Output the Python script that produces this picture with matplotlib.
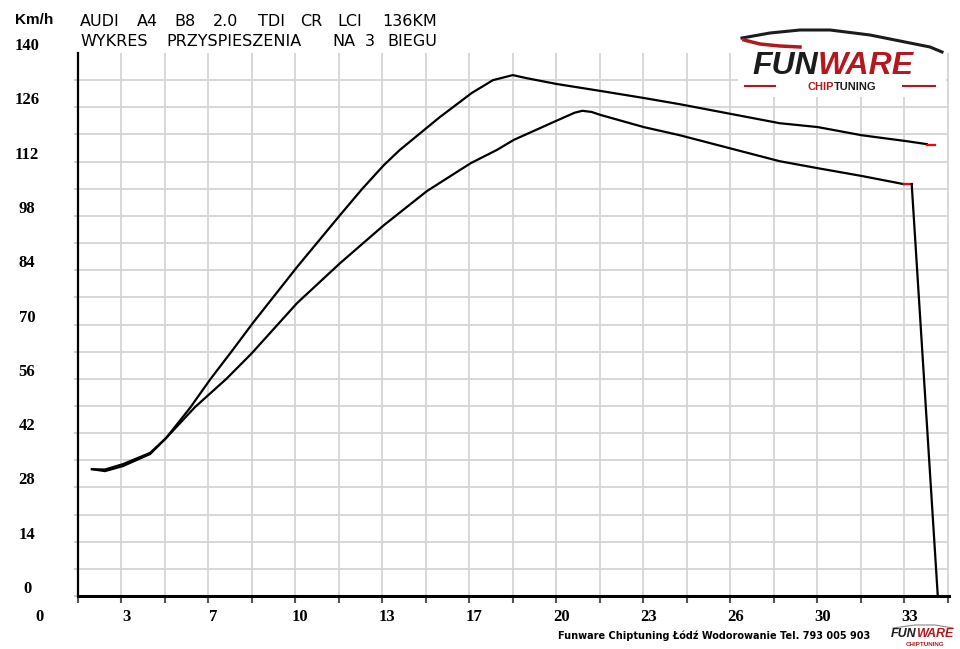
import numpy as np
import matplotlib
matplotlib.use("Agg")
import matplotlib.pyplot as plt
import matplotlib.transforms as mtransforms
from matplotlib.patches import Rectangle

# data (x in the chart's own units, speed in km/h)
upper_x = [2.20, 2.70, 3.39, 4.43, 5.04, 5.96, 6.74, 7.57, 8.37, 10.06, 11.71, 12.55,
           13.39, 14.00, 15.54, 16.76, 17.57, 18.33, 18.87, 20.02, 21.71, 23.35,
           24.73, 28.56, 30.02, 31.70, 33.39, 34.20]
upper_y = [32.7, 32.6, 34.0, 36.9, 40.7, 48.5, 55.9, 63.2, 70.4, 84.8, 98.2, 104.9,
           111.1, 115.0, 123.5, 129.7, 133.0, 134.3, 133.5, 132.0, 130.2, 128.4,
           126.8, 121.9, 120.9, 118.8, 117.3, 116.5]
upper_end_x = [34.20, 34.50]
upper_end_y = [116.4, 116.4]

lower_x = [2.20, 2.70, 3.39, 4.43, 5.04, 6.15, 7.34, 8.33, 10.06, 11.71, 13.39, 15.04,
           16.72, 17.72, 18.37, 20.06, 20.70, 21.00, 21.35, 21.71, 23.35, 24.73,
           28.56, 30.02, 31.70, 33.31]
lower_y = [32.7, 32.2, 33.5, 36.6, 40.7, 48.7, 55.9, 62.6, 75.5, 85.8, 95.6, 104.4,
           111.6, 115.0, 117.6, 122.7, 124.6, 125.1, 124.8, 124.0, 120.9, 118.8,
           112.1, 110.3, 108.3, 106.2]
lower_end_x = [33.31, 33.62]
lower_end_y = [106.2, 106.2]
lower_drop_x = [33.62, 34.62]
lower_drop_y = [106.2, 0.0]

x_label_pos = [0, 10/3, 20/3, 10, 40/3, 50/3, 20, 70/3, 80/3, 30, 100/3]
x_labels = ["0", "3", "7", "10", "13", "17", "20", "23", "26", "30", "33"]
y_label_pos = [0, 14, 28, 42, 56, 70, 84, 98, 112, 126, 140]
y_labels = ["0", "14", "28", "42", "56", "70", "84", "98", "112", "126", "140"]

title1 = ["AUDI", "A4", "B8", "2.0", "TDI", "CR", "LCI", "136KM"]
title1_px = [80, 137, 174, 213, 258, 300, 337, 382]
title2 = ["WYKRES", "PRZYSPIESZENIA", "NA", "3", "BIEGU"]
title2_px = [80, 166, 332, 365, 387]

W, H = 960, 649
fig = plt.figure(figsize=(9.6, 6.49), dpi=100)
ax = fig.add_axes([78 / W, 1 - 596 / H, (949 - 78) / W, (596 - 53) / H])

ax.plot(upper_x, upper_y, color="black", lw=1.6, zorder=3)
ax.plot(upper_end_x, upper_end_y, color="red", lw=1.6, zorder=3)
ax.plot(lower_x, lower_y, color="black", lw=1.6, zorder=3)
ax.plot(lower_end_x, lower_end_y, color="red", lw=1.6, zorder=3)
ax.plot(lower_drop_x, lower_drop_y, color="black", lw=1.6, zorder=3)

ax.set_xlim(5 / 3, 35.05)
ax.set_ylim(0, 140)
ax.set_xticks(np.arange(1, 22) * 5 / 3)
ax.set_yticks(np.arange(0, 140, 7))
ax.set_xticklabels([])
ax.set_yticklabels([])
ax.grid(True, color="#d4d4d4", lw=1.3)
ax.set_axisbelow(True)
ax.tick_params(axis="x", direction="out", length=5, width=1.5, color="#555555")
ax.tick_params(axis="y", direction="out", length=3, width=1.2, color="#c8c8c8")
for s in ["top", "right"]:
    ax.spines[s].set_visible(False)
ax.spines["left"].set_linewidth(1.6)
ax.spines["bottom"].set_linewidth(2.2)

num_font = dict(family="Liberation Serif", weight="bold", size=12)
xt = mtransforms.offset_copy(
    mtransforms.blended_transform_factory(ax.transData, fig.transFigure),
    fig=fig, x=5, y=0, units="dots")
for v, s in zip(x_label_pos, x_labels):
    ax.text(v, 1 - 617 / H, s, transform=xt, ha="center", va="center", **num_font)
yt = mtransforms.offset_copy(
    mtransforms.blended_transform_factory(fig.transFigure, ax.transData),
    fig=fig, x=0, y=7, units="dots")
for v, s in zip(y_label_pos, y_labels):
    ax.text(27 / W, v, s, transform=yt, ha="center", va="center", **num_font)

fig.text(34 / W, 1 - 20 / H, "Km/h", ha="center", va="center",
         family="Liberation Sans", weight="bold", size=11)

for w, px in zip(title1, title1_px):
    fig.text(px / W, 1 - 22 / H, w, ha="left", va="center",
             family="DejaVu Sans", size=11.5)
for w, px in zip(title2, title2_px):
    fig.text(px / W, 1 - 41.5 / H, w, ha="left", va="center",
             family="DejaVu Sans", size=11.5)

# footer
fig.text(558 / W, 1 - 636 / H, "Funware Chiptuning Łódź Wodorowanie Tel. 793 005 903",
         ha="left", va="center", family="DejaVu Sans", weight="bold", size=7)

# big logo, top right
fig.patches.append(Rectangle((738 / W, 1 - 97 / H), 208 / W, 67 / H,
                             transform=fig.transFigure, facecolor="white",
                             edgecolor="none", zorder=2))
logo = dict(family="Liberation Sans", weight="bold", style="italic", size=23, zorder=4)
fig.text(818 / W, 1 - 74 / H, "FUN", ha="right", va="baseline", color="#1c1c1c", **logo)
fig.text(818 / W, 1 - 74 / H, "WARE", ha="left", va="baseline", color="#b3181f", **logo)
sub = dict(family="Liberation Sans", weight="bold", size=8, zorder=4)
fig.text(834 / W, 1 - 90.5 / H, "CHIP", ha="right", va="baseline", color="#b3181f", **sub)
fig.text(834 / W, 1 - 90.5 / H, "TUNING", ha="left", va="baseline", color="#1c1c1c", **sub)
fig.add_artist(plt.Line2D([745 / W, 775 / W], [1 - 86 / H] * 2, color="#b3181f", lw=1.5, zorder=4))
fig.add_artist(plt.Line2D([903 / W, 935 / W], [1 - 86 / H] * 2, color="#b3181f", lw=1.5, zorder=4))
car_px = [742, 770, 800, 830, 870, 905, 930, 942]
car_py = [38, 33, 30, 30, 35, 42, 47, 52]
fig.add_artist(plt.Line2D([p / W for p in car_px], [1 - p / H for p in car_py],
                          color="#1c1c1c", lw=2.2, zorder=4))
red_px = [744, 760, 780, 800]
red_py = [40, 44, 46, 47]
fig.add_artist(plt.Line2D([p / W for p in red_px], [1 - p / H for p in red_py],
                          color="#b3181f", lw=2.5, zorder=4))

# small logo, bottom right
small = dict(family="Liberation Sans", weight="bold", style="italic", size=9)
fig.text(916 / W, 1 - 634 / H, "FUN", ha="right", va="center", color="#1c1c1c", **small)
fig.text(916 / W, 1 - 634 / H, "WARE", ha="left", va="center", color="#b3181f", **small)
fig.text(925 / W, 1 - 644 / H, "CHIPTUNING", ha="center", va="center",
         color="#b3181f", family="Liberation Sans", weight="bold", size=4.5)
fig.add_artist(plt.Line2D([893 / W, 915 / W, 935 / W, 953 / W],
                          [1 - 628 / H, 1 - 625 / H, 1 - 625 / H, 1 - 628 / H],
                          color="#888888", lw=0.8))

fig.savefig("out.png", dpi=100)
